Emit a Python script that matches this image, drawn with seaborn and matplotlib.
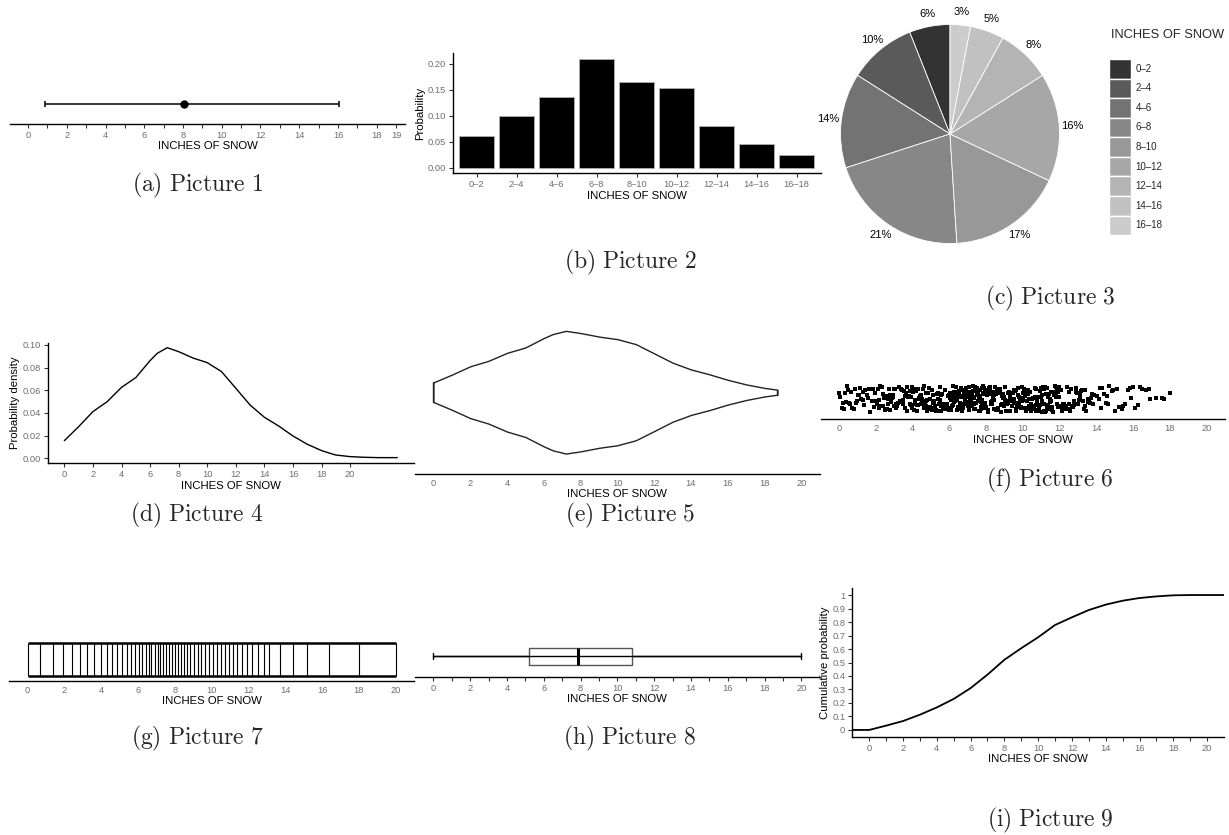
import matplotlib
matplotlib.use("Agg")
import matplotlib.pyplot as plt
from matplotlib.patches import Patch
import seaborn as sns

# ---------------- values ----------------
# (a) mean and interval
snow_mean = 8.05
snow_low, snow_high = 0.9, 16.05

# (b) / (c) binned probabilities
bin_labels = ["0–2", "2–4", "4–6", "6–8", "8–10", "10–12", "12–14", "14–16", "16–18"]
bin_prob = [0.0622, 0.1006, 0.136, 0.2103, 0.1648, 0.1545, 0.080, 0.0468, 0.0256]
pie_pct = [6, 10, 14, 21, 17, 16, 8, 5, 3]

# (d) / (e) density curve
dens_x = [0, 1, 2, 3, 4, 5, 6, 6.5, 7.2, 8, 9, 10, 11, 12, 13, 14, 15, 16, 17, 18,
          18.7, 19, 20, 21, 22, 23.3]
dens_y = [0.0156, 0.0279, 0.0412, 0.050, 0.0626, 0.0712, 0.0862, 0.0926, 0.0976,
          0.0941, 0.0885, 0.0844, 0.0765, 0.0618, 0.047, 0.0362, 0.0285, 0.0197,
          0.0124, 0.0068, 0.0040, 0.0029, 0.0015, 0.0009, 0.0006, 0.0006]
violin_end = 18.7

# (f) observations shown as jittered strip
strip_snow = [
    0.02, 0.17, 0.26, 0.38, 0.41, 0.57, 0.66, 0.72, 0.89, 0.97, 1.08, 1.13, 1.29, 1.36,
    1.51, 1.58, 1.71, 1.84, 1.96,
    2.04, 2.11, 2.19, 2.27, 2.33, 2.46, 2.52, 2.58, 2.64, 2.71, 2.79, 2.86, 2.92, 2.99,
    3.06, 3.12, 3.21, 3.26, 3.34, 3.39, 3.47, 3.53, 3.61, 3.66, 3.72, 3.78, 3.85, 3.88,
    3.93, 3.99,
    4.01, 4.06, 4.13, 4.18, 4.22, 4.28, 4.33, 4.37, 4.42, 4.47, 4.53, 4.56, 4.62, 4.67,
    4.71, 4.76, 4.81, 4.86, 4.9, 4.95, 4.99, 5.04, 5.09, 5.14, 5.19, 5.23, 5.29, 5.33,
    5.38, 5.44, 5.48, 5.53, 5.57, 5.63, 5.68, 5.72, 5.77, 5.83, 5.87, 5.92, 5.97,
    6.02, 6.05, 6.09, 6.12, 6.15, 6.18, 6.22, 6.24, 6.28, 6.31, 6.35, 6.37, 6.41, 6.44,
    6.47, 6.5, 6.53, 6.57, 6.6, 6.63, 6.65, 6.69, 6.72, 6.76, 6.78, 6.82, 6.85, 6.88,
    6.91, 6.94, 6.97, 7.01, 7.03, 7.07, 7.1, 7.13, 7.16, 7.19, 7.23, 7.25, 7.29, 7.32,
    7.35, 7.38, 7.42, 7.44, 7.48, 7.51, 7.54, 7.57, 7.61, 7.63, 7.67, 7.7, 7.73, 7.76,
    7.8, 7.82, 7.86, 7.89, 7.92, 7.95, 7.98,
    8.01, 8.05, 8.1, 8.13, 8.17, 8.22, 8.25, 8.29, 8.34, 8.37, 8.41, 8.46, 8.49, 8.53,
    8.58, 8.61, 8.65, 8.7, 8.73, 8.77, 8.82, 8.85, 8.89, 8.94, 8.97, 9.02, 9.05, 9.09,
    9.14, 9.17, 9.21, 9.26, 9.29, 9.33, 9.38, 9.41, 9.45, 9.5, 9.53, 9.57, 9.62, 9.65,
    9.69, 9.74, 9.77, 9.81, 9.86, 9.89, 9.93, 9.98,
    10.02, 10.06, 10.11, 10.15, 10.19, 10.23, 10.28, 10.31, 10.36, 10.41, 10.44, 10.49,
    10.53, 10.57, 10.62, 10.65, 10.7, 10.74, 10.79, 10.83, 10.87, 10.92, 10.95, 11.0,
    11.04, 11.09, 11.13, 11.17, 11.22, 11.26, 11.3, 11.35, 11.39, 11.43, 11.48, 11.52,
    11.56, 11.61, 11.64, 11.69, 11.73, 11.78, 11.82, 11.86, 11.91, 11.96,
    12.04, 12.12, 12.19, 12.27, 12.36, 12.41, 12.49, 12.58, 12.66, 12.72, 12.81, 12.88,
    12.97, 13.05, 13.13, 13.21, 13.28, 13.37, 13.46, 13.52, 13.61, 13.69, 13.78, 13.89,
    14.06, 14.19, 14.33, 14.42, 14.58, 14.71, 14.86, 15.02, 15.21, 15.39, 15.55, 15.72,
    15.9, 15.98,
    16.08, 16.27, 16.49, 16.71, 16.93, 17.24, 17.58, 18.02,
    0.08, 0.22, 0.33, 0.49, 0.61, 0.79, 0.93, 1.04, 1.21, 1.33, 1.44, 1.63, 1.77, 1.9,
    2.07, 2.15, 2.24, 2.38, 2.42, 2.55, 2.61, 2.68, 2.75, 2.83, 2.95, 3.02, 3.09, 3.17,
    3.3, 3.43, 3.5, 3.57, 3.69, 3.81, 3.91, 3.97,
    4.04, 4.1, 4.16, 4.25, 4.31, 4.4, 4.45, 4.5, 4.6, 4.65, 4.74, 4.79, 4.84, 4.92,
    4.97, 5.02, 5.07, 5.12, 5.17, 5.26, 5.31, 5.36, 5.41, 5.51, 5.55, 5.61, 5.66, 5.75,
    5.8, 5.9,
    6.0, 6.07, 6.1, 6.14, 6.2, 6.26, 6.3, 6.33, 6.39, 6.43, 6.46, 6.52, 6.55, 6.59,
    6.62, 6.67, 6.71, 6.74, 6.8, 6.84, 6.87, 6.92, 6.95, 6.99, 7.05, 7.09, 7.12, 7.18,
    7.21, 7.27, 7.31, 7.36, 7.4, 7.46, 7.5, 7.55, 7.59, 7.65, 7.69, 7.75, 7.79, 7.84,
    7.88, 7.94, 7.97,
    8.03, 8.08, 8.15, 8.2, 8.27, 8.32, 8.39, 8.44, 8.48, 8.51, 8.56, 8.63, 8.68, 8.75,
    8.8, 8.87, 8.92, 8.99, 9.04, 9.11, 9.16, 9.2, 9.23, 9.28, 9.35, 9.4, 9.47, 9.52,
    9.59, 9.64, 9.71, 9.76, 9.83, 9.88, 9.95, 9.99,
    10.04, 10.09, 10.17, 10.21, 10.26, 10.34, 10.39, 10.46, 10.51, 10.59, 10.64, 10.68,
    10.72, 10.77, 10.85, 10.9, 10.98, 11.02, 11.07, 11.15, 11.2, 11.28, 11.33, 11.41,
    11.46, 11.54, 11.59, 11.67, 11.71, 11.8, 11.84, 11.93, 11.98,
    12.08, 12.15, 12.23, 12.31, 12.45, 12.53, 12.62, 12.69, 12.77, 12.92, 13.01, 13.09,
    13.17, 13.32, 13.41, 13.57, 13.65, 13.82,
    14.12, 14.27, 14.5, 14.64, 14.93, 15.12, 15.46, 15.81,
    16.38, 16.84, 17.7,
]

# (g) quantile lines
quantile_lines = [0, 0.69, 1.39, 1.94, 2.39, 2.84, 3.24, 3.62, 4.0, 4.29, 4.58, 4.87,
                  5.12, 5.38, 5.61, 5.83, 6.03, 6.23, 6.41, 6.57, 6.73, 6.9, 7.06, 7.2,
                  7.37, 7.53, 7.69, 7.84, 8.0, 8.16, 8.33, 8.51, 8.67, 8.85, 9.05, 9.25,
                  9.43, 9.65, 9.85, 10.08, 10.3, 10.52, 10.73, 10.95, 11.17, 11.4, 11.66,
                  11.93, 12.22, 12.52, 12.83, 13.14, 13.7, 14.43, 15.17, 16.36, 18.0, 20.0]

# (h) box plot summary
box_min, box_q1, box_med, box_q3, box_max = 0, 5.2, 7.86, 10.78, 20

# (i) cumulative probability
cdf_x = [-1, 0, 1, 2, 3, 4, 5, 6, 7, 8, 9, 10, 11, 12, 13, 14, 15, 16, 17, 18, 19, 21]
cdf_y = [0, 0, 0.032, 0.066, 0.113, 0.167, 0.23, 0.31, 0.41, 0.52, 0.606, 0.687, 0.778,
         0.835, 0.889, 0.929, 0.958, 0.978, 0.990, 0.998, 1.0, 1.0]

captions = ["(a)\\ Picture\\ 1", "(b)\\ Picture\\ 2", "(c)\\ Picture\\ 3",
            "(d)\\ Picture\\ 4", "(e)\\ Picture\\ 5", "(f)\\ Picture\\ 6",
            "(g)\\ Picture\\ 7", "(h)\\ Picture\\ 8", "(i)\\ Picture\\ 9"]

# ---------------- style ----------------
sns.set_theme(style="ticks")
plt.rcParams["font.family"] = ["Liberation Sans", "DejaVu Sans"]
plt.rcParams["mathtext.fontset"] = "cm"

grays = ["#333333", "#5a5a5a", "#737373", "#878787", "#989898",
         "#a7a7a7", "#b4b4b4", "#c1c1c1", "#cccccc"]

W, H = 1229, 835
fig = plt.figure(figsize=(W / 100, H / 100), dpi=100)


def px_axes(left, top, right, bottom):
    return fig.add_axes([left / W, 1 - bottom / H, (right - left) / W, (bottom - top) / H])


def prep(ax, left_axis=False, ticklen=3.0):
    sns.despine(ax=ax, left=not left_axis)
    ax.set_facecolor("none")
    for side in ["bottom", "left"]:
        ax.spines[side].set_color("black")
        ax.spines[side].set_linewidth(1.0)
    if not left_axis:
        ax.set_yticks([])
    ax.tick_params(length=ticklen, width=0.8, color="#333333", labelcolor="#6e6e6e",
                   labelsize=6.7, pad=2 if ticklen > 0 else 3.5)
    ax.set_xlabel("INCHES OF SNOW", fontsize=8.2, labelpad=1, color="black")


def int_ticks(ax, hi, extra=None):
    ticks = list(range(0, hi + 1))
    labels = [str(t) if t % 2 == 0 else "" for t in ticks]
    if extra is not None:
        labels[extra] = str(extra)
    ax.set_xticks(ticks)
    ax.set_xticklabels(labels)


# (a) mean with interval
ax1 = px_axes(10, 84, 405, 124)
ax1.errorbar([snow_mean], [0], xerr=[[snow_mean - snow_low], [snow_high - snow_mean]],
             fmt="o", color="black", ms=5, elinewidth=1.1, capsize=2.5, capthick=1.1)
ax1.set_ylim(-0.6, 0.6)
ax1.set_xlim(-0.93, 19.46)
prep(ax1)
int_ticks(ax1, 19, extra=19)

# (b) probability bars
ax2 = px_axes(452.5, 53.3, 820.7, 173.3)
sns.barplot(x=bin_labels, y=bin_prob, color="black", edgecolor="#b0b0b0",
            linewidth=0.6, width=0.87, ax=ax2)
ax2.set_xlim(-0.6, 8.6)
ax2.set_ylim(-0.0105, 0.2205)
ax2.set_yticks([0, 0.05, 0.10, 0.15, 0.20])
ax2.set_yticklabels(["0.00", "0.05", "0.10", "0.15", "0.20"])
prep(ax2, left_axis=True)
ax2.set_ylabel("Probability", fontsize=8.2, labelpad=1.5, color="black")

# (c) pie
ax3 = px_axes(840.5, 24.5, 1059.5, 243.5)
wedges, _, _ = ax3.pie(pie_pct, colors=grays, startangle=90, counterclock=True,
                       wedgeprops=dict(edgecolor="white", linewidth=0.6),
                       autopct=lambda p: f"{p:.0f}%", pctdistance=1.12,
                       textprops=dict(fontsize=8, color="black"))
ax3.set_xlim(-1, 1)
ax3.set_ylim(-1, 1)
fig.text(1111 / W, 1 - 29 / H, "INCHES OF SNOW", fontsize=9.3, va="top", ha="left")
handles = [Patch(facecolor=c, edgecolor="white", linewidth=1.0) for c in grays]
fig.legend(handles, bin_labels, loc="upper left",
           bbox_to_anchor=(1109 / W, 1 - 59 / H), frameon=False, fontsize=7,
           handlelength=2.3, handleheight=2.72, labelspacing=0.0,
           handletextpad=0.45, borderpad=0, borderaxespad=0)

# (d) density
ax4 = px_axes(47.7, 342.7, 414, 463.3)
sns.lineplot(x=dens_x, y=dens_y, color="black", linewidth=1.0, ax=ax4)
ax4.set_xlim(-1.165, 24.47)
ax4.set_ylim(-0.0044, 0.102)
ax4.set_xticks(range(0, 21, 2))
ax4.set_yticks([0, 0.02, 0.04, 0.06, 0.08, 0.10])
ax4.set_yticklabels(["0.00", "0.02", "0.04", "0.06", "0.08", "0.10"])
prep(ax4, left_axis=True)
ax4.set_ylabel("Probability density", fontsize=8.2, labelpad=2, color="black")

# (e) violin built from the same density
ax5 = px_axes(415, 310.4, 819.7, 474)
vx = [x for x in dens_x if x <= violin_end]
vmax = max(dens_y)
vw = [0.45 * y / vmax for x, y in zip(dens_x, dens_y) if x <= violin_end]
ax5.fill_between(vx, [1 - w for w in vw], [1 + w for w in vw],
                 facecolor="white", edgecolor="#222222", linewidth=1.0)
ax5.plot([vx[0], vx[0]], [1 - vw[0], 1 + vw[0]], color="#222222", lw=1.0)
ax5.plot([vx[-1], vx[-1]], [1 - vw[-1], 1 + vw[-1]], color="#222222", lw=1.0)
ax5.set_ylim(0.4, 1.6)
ax5.set_xlim(-1, 21)
ax5.set_xticks(range(0, 21, 2))
prep(ax5, ticklen=0)

# (f) jittered strip
ax6 = px_axes(820.6, 378.7, 1225, 419.3)
sns.stripplot(x=strip_snow, color="black", size=3.5, marker="s", jitter=0.38,
              linewidth=0, ax=ax6)
ax6.set_ylim(0.6, -0.6)
ax6.set_xlim(-1, 21)
ax6.set_xticks(range(0, 21, 2))
prep(ax6, ticklen=0)

# (g) quantile lines
ax7 = px_axes(9.3, 637.4, 414, 681)
ax7.vlines(quantile_lines, 0.55, 1.45, color="black", linewidth=0.8)
ax7.hlines([0.55, 1.45], min(quantile_lines), max(quantile_lines), color="black",
           linewidth=1.8)
ax7.set_ylim(0.4, 1.6)
ax7.set_xlim(-1, 21)
ax7.set_xticks(range(0, 21, 2))
prep(ax7, ticklen=0)

# (h) box plot
ax8 = px_axes(415, 635.9, 819.7, 676.7)
stats = [dict(whislo=box_min, q1=box_q1, med=box_med, q3=box_q3, whishi=box_max,
              fliers=[])]
ax8.hlines([1], box_min, box_max, color="black", linewidth=1.0)
ax8.bxp(stats, positions=[1], widths=0.51, capwidths=0.18, orientation="horizontal",
        showfliers=False,
        boxprops=dict(color="#555555", linewidth=1.0),
        medianprops=dict(color="black", linewidth=2.2),
        whiskerprops=dict(color="black", linewidth=1.0),
        capprops=dict(color="black", linewidth=1.0))
ax8.set_ylim(0.4, 1.6)
ax8.set_xlim(-1, 21)
prep(ax8)
int_ticks(ax8, 20)

# (i) cumulative probability
ax9 = px_axes(852.3, 588.3, 1224, 736.7)
sns.lineplot(x=cdf_x, y=cdf_y, color="black", linewidth=1.3, ax=ax9)
ax9.set_xlim(-1, 21)
ax9.set_ylim(-0.05, 1.05)
ax9.set_yticks([i / 10 for i in range(11)])
ax9.set_yticklabels(["0"] + [f"{i / 10:.1f}" for i in range(1, 10)] + ["1"])
prep(ax9, left_axis=True)
int_ticks(ax9, 20)
ax9.set_ylabel("Cumulative probability", fontsize=8.2, labelpad=1.5, color="black")

# captions
cap_pos = [(197, 191), (630, 268), (1050, 304), (197, 521), (630, 521), (1050, 486),
           (197, 744), (630, 744), (1050, 826)]
for (cx, cy), cap in zip(cap_pos, captions):
    fig.text(cx / W, 1 - cy / H, "$\\mathrm{" + cap + "}$", fontsize=17,
             ha="center", va="baseline")

fig.savefig("out.png", dpi=100)
